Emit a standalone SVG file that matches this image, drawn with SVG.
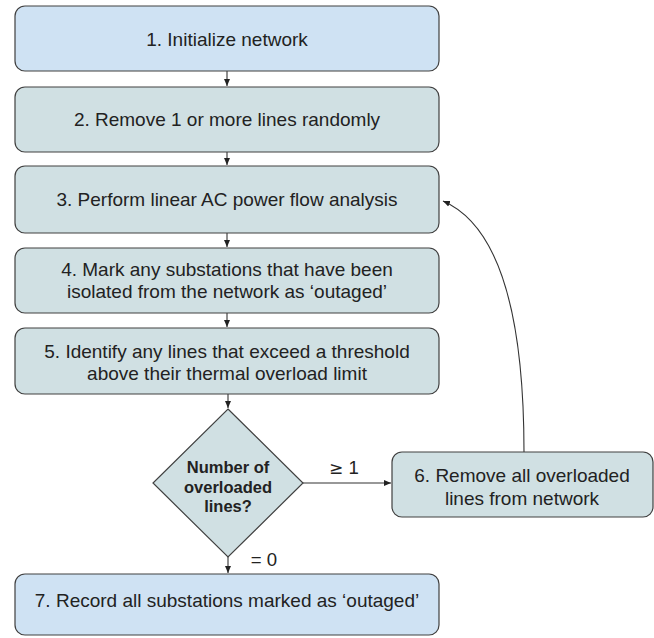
<svg xmlns="http://www.w3.org/2000/svg" width="654" height="638" viewBox="0 0 654 638">
<style>
.box{stroke:#404040;stroke-width:1.2}
.blue{fill:#cfe2f3}
.teal{fill:#d0e0e3}
.t{font-family:"Liberation Sans",Arial,sans-serif;font-size:19px;fill:#222;text-anchor:middle}
.b{font-family:"Liberation Sans",Arial,sans-serif;font-size:16.5px;font-weight:bold;fill:#222;text-anchor:middle}
.lbl{font-family:"Liberation Sans",Arial,sans-serif;font-size:18.6px;fill:#222;text-anchor:middle}
.ge{font-family:"Liberation Sans",Arial,sans-serif;font-size:18.6px;fill:#222;text-anchor:middle}
.c{fill:none;stroke:#333;stroke-width:1.1}
</style>
<defs>
<marker id="ah" markerUnits="userSpaceOnUse" markerWidth="8" markerHeight="8" viewBox="0 0 8 8" refX="7" refY="4" orient="auto">
<path d="M0,1 L7,4 L0,7 Z" fill="#222"/>
</marker>
</defs>
<g id="connectors">
<path class="c" d="M227,71 V86" marker-end="url(#ah)"/>
<path class="c" d="M227,152 V165" marker-end="url(#ah)"/>
<path class="c" d="M227,233 V247" marker-end="url(#ah)"/>
<path class="c" d="M227,313 V327" marker-end="url(#ah)"/>
<path class="c" d="M228,394 V408" marker-end="url(#ah)"/>
<path class="c" d="M228,557 V573" marker-end="url(#ah)"/>
<path class="c" d="M303,483 H391" marker-end="url(#ah)"/>
<path class="c" d="M524,452 C524,330 505,228 443,201" marker-end="url(#ah)"/>
<text class="ge" x="344" y="474"><tspan font-family="DejaVu Sans,sans-serif" font-size="17px">≥</tspan> 1</text>
<text class="lbl" x="264" y="566">= 0</text>
</g>
<g id="n1">
<rect class="box blue" x="15" y="6" width="424" height="65" rx="10"/>
<text class="t" x="227" y="46">1. Initialize network</text>
</g>
<g id="n2">
<rect class="box teal" x="15" y="87" width="424" height="65" rx="10"/>
<text class="t" x="227" y="126">2. Remove 1 or more lines randomly</text>
</g>
<g id="n3">
<rect class="box teal" x="15" y="166" width="424" height="67" rx="10"/>
<text class="t" x="227" y="206">3. Perform linear AC power flow analysis</text>
</g>
<g id="n4">
<rect class="box teal" x="15" y="248" width="424" height="65" rx="10"/>
<text class="t" x="227" y="275.7">4. Mark any substations that have been</text>
<text class="t" x="227" y="298.3">isolated from the network as ‘outaged’</text>
</g>
<g id="n5">
<rect class="box teal" x="15" y="328" width="424" height="66" rx="10"/>
<text class="t" x="227" y="357.7">5. Identify any lines that exceed a threshold</text>
<text class="t" x="227" y="379.5">above their thermal overload limit</text>
</g>
<g id="n_decision">
<polygon class="box teal" points="228,409 303,483 228,557 153,483"/>
<text class="b" x="228" y="473">Number of</text>
<text class="b" x="228" y="492.5">overloaded</text>
<text class="b" x="228" y="512">lines?</text>
</g>
<g id="n6">
<rect class="box teal" x="392" y="452" width="261" height="65" rx="10"/>
<text class="t" x="522" y="481.7">6. Remove all overloaded</text>
<text class="t" x="522" y="505">lines from network</text>
</g>
<g id="n7">
<rect class="box blue" x="15" y="574" width="424" height="61" rx="10"/>
<text class="t" x="227" y="606.7">7. Record all substations marked as ‘outaged’</text>
</g>
</svg>
